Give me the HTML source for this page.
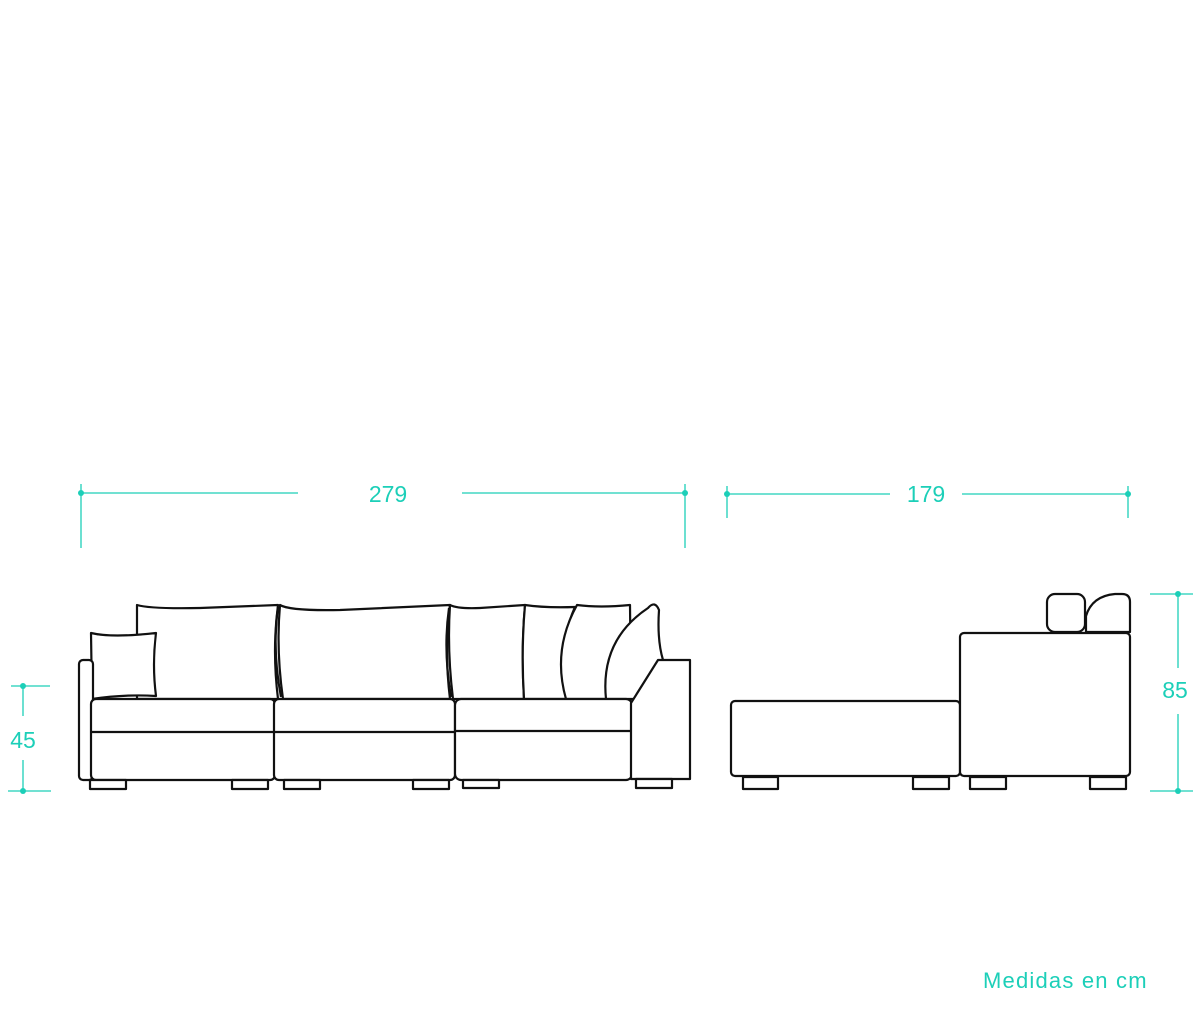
<!DOCTYPE html>
<html><head><meta charset="utf-8"><style>
html,body{margin:0;padding:0;background:#fff;}
svg{display:block;}
text{font-family:"Liberation Sans",sans-serif;fill:#1ccfb8;}
</style></head><body>
<svg width="1200" height="1028" viewBox="0 0 1200 1028" xmlns="http://www.w3.org/2000/svg">
<g stroke="#1ccfb8" stroke-width="1.3" fill="none">
  <line x1="81" y1="493" x2="298" y2="493"/><line x1="462" y1="493" x2="685" y2="493"/>
  <line x1="81" y1="484" x2="81" y2="548"/><line x1="685" y1="484" x2="685" y2="548"/>
  <line x1="727" y1="494" x2="890" y2="494"/><line x1="962" y1="494" x2="1128" y2="494"/>
  <line x1="727" y1="486" x2="727" y2="518"/><line x1="1128" y1="486" x2="1128" y2="518"/>
  <line x1="23" y1="686" x2="23" y2="716"/><line x1="23" y1="760" x2="23" y2="791"/>
  <line x1="11" y1="686" x2="50" y2="686"/><line x1="8" y1="791" x2="51" y2="791"/>
  <line x1="1178" y1="594" x2="1178" y2="668"/><line x1="1178" y1="714" x2="1178" y2="791"/>
  <line x1="1150" y1="594" x2="1193" y2="594"/><line x1="1150" y1="791" x2="1193" y2="791"/>
</g>
<g fill="#1ccfb8">
  <circle cx="81" cy="493" r="3"/><circle cx="685" cy="493" r="3"/>
  <circle cx="727" cy="494" r="3"/><circle cx="1128" cy="494" r="3"/>
  <circle cx="23" cy="686" r="3"/><circle cx="23" cy="791" r="3"/>
  <circle cx="1178" cy="594" r="3"/><circle cx="1178" cy="791" r="3"/>
</g>
<text x="388" y="502" font-size="23" text-anchor="middle">279</text>
<text x="926" y="502" font-size="23" text-anchor="middle">179</text>
<text x="23" y="748" font-size="23" text-anchor="middle">45</text>
<text x="1175" y="698" font-size="23" text-anchor="middle">85</text>
<text x="983" y="988" font-size="22" letter-spacing="1.2">Medidas en cm</text>

<g stroke="#111" stroke-width="2.2" fill="#fff" stroke-linejoin="round">
  <path d="M137,605 Q150,609 200,608 L278,605 Q272,650 278,699 L137,699 Z"/>
  <path d="M280,605 Q290,611 340,610 L450,605 Q444,650 450,699 L283,699 Q276,650 280,605 Z"/>
  <path d="M278,607 Q272,650 281,697 M449,608 Q443,650 451,697" fill="none"/>
  <path d="M450,605 Q458,609 480,608 L525,605 Q521,650 524,699 L453,699 Q447,650 450,605 Z"/>
  <path d="M525,605 Q545,608 575,607 Q556,650 566,699 L524,699 Q521,650 525,605 Z"/>
  <path d="M577,605 Q600,608 630,605 L631,699 L566,699 Q552,650 577,605 Z"/>
  <path d="M606,699 Q600,640 648,608 Q655,600 659,610 Q657,640 663,660 L640,699 Z"/>
  <path d="M91,633 Q112,638 156,633 Q152,665 156,696 Q125,694 92,699 Z"/>
  <rect x="79" y="660" width="14" height="120" rx="4"/>
  <rect x="91" y="699" width="184" height="81" rx="5"/>
  <rect x="274" y="699" width="181" height="81" rx="5"/>
  <rect x="455" y="699" width="177" height="81" rx="6"/>
  <line x1="91" y1="732" x2="455" y2="732"/>
  <line x1="455" y1="731" x2="631" y2="731"/>
  <path d="M631,703 L658,660 L690,660 L690,779 L631,779 Z"/>
  <rect x="90" y="780" width="36" height="9"/><rect x="232" y="780" width="36" height="9"/>
  <rect x="284" y="780" width="36" height="9"/><rect x="413" y="780" width="36" height="9"/>
  <rect x="463" y="780" width="36" height="8"/><rect x="636" y="779" width="36" height="9"/>

  <rect x="1047" y="594" width="38" height="38" rx="8"/>
  <path d="M1086,632 L1086,616 Q1092,596 1115,594 L1122,594 Q1130,594 1130,602 L1130,632 Z"/>
  <rect x="731" y="701" width="229" height="75" rx="4"/>
  <rect x="960" y="633" width="170" height="143" rx="4"/>
  <rect x="743" y="777" width="35" height="12"/><rect x="913" y="777" width="36" height="12"/>
  <rect x="970" y="777" width="36" height="12"/><rect x="1090" y="777" width="36" height="12"/>
</g>
</svg>
</body></html>
